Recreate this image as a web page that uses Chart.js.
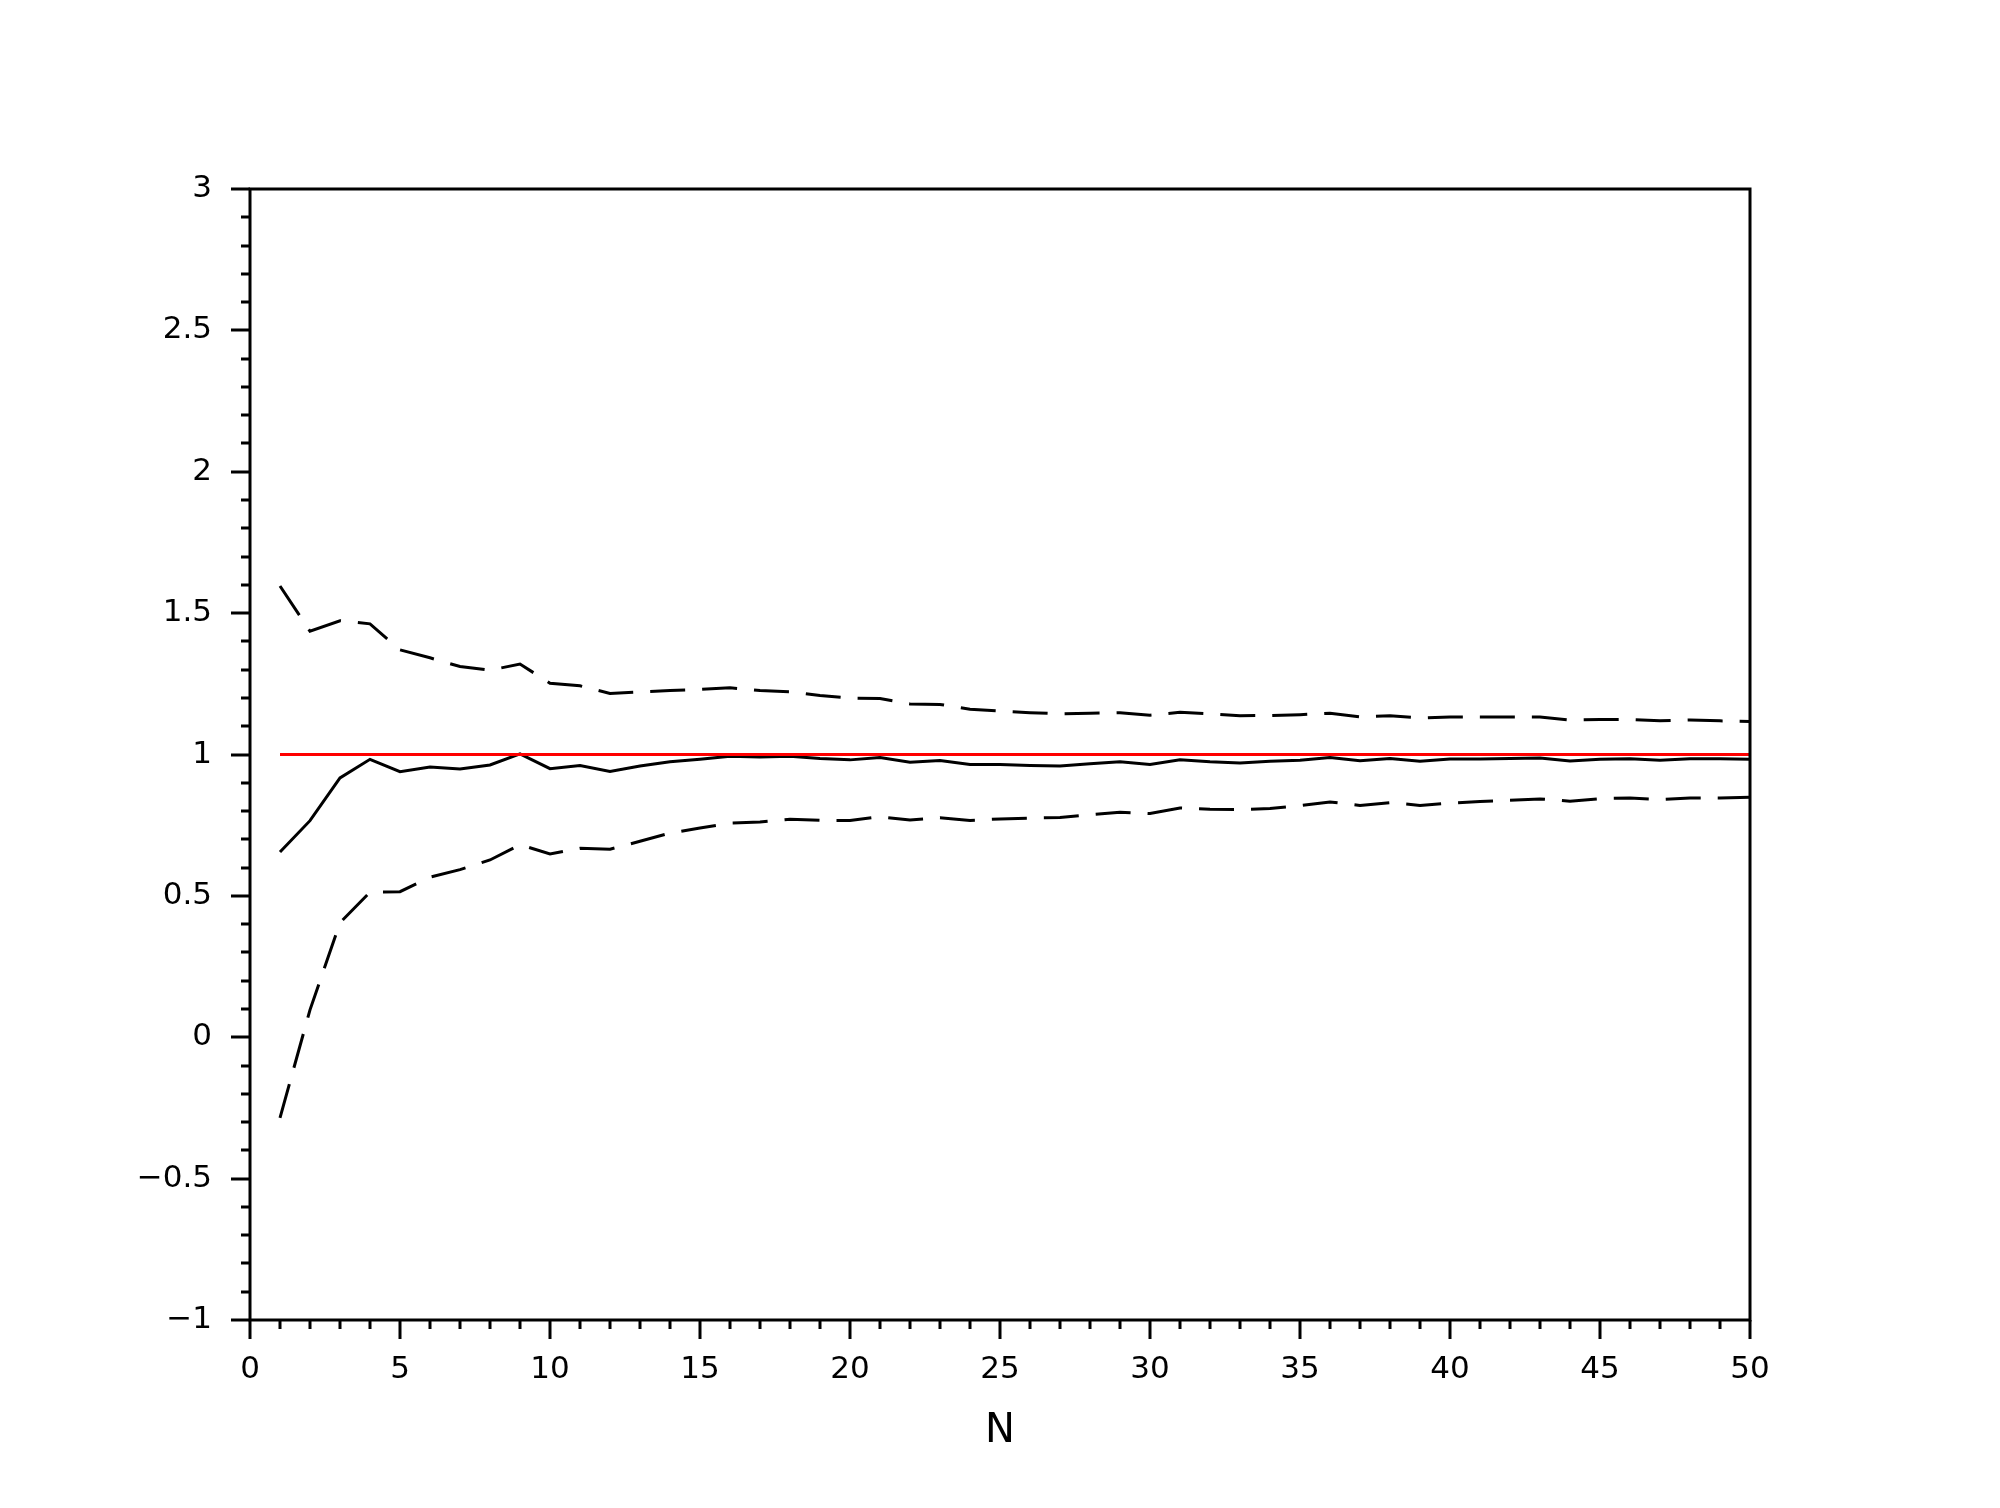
<!DOCTYPE html>
<html>
<head>
<meta charset="utf-8">
<title>N convergence</title>
<script src="https://cdn.jsdelivr.net/npm/chart.js@4.4.1/dist/chart.umd.min.js"></script>
<style>
  html, body { margin: 0; padding: 0; background: #fff; }
  canvas { display: block; }
</style>
</head>
<body>
<canvas id="chart" width="2000" height="1508"></canvas>
<script>
'use strict';

// ------------------------------- Data ------------------------------//
const nValues = [1, 2, 3, 4, 5, 6, 7, 8, 9, 10, 11, 12, 13, 14, 15, 16, 17, 18, 19, 20,
  21, 22, 23, 24, 25, 26, 27, 28, 29, 30, 31, 32, 33, 34, 35, 36, 37, 38, 39, 40,
  41, 42, 43, 44, 45, 46, 47, 48, 49, 50];

const meanValues = [0.655, 0.766, 0.917, 0.983, 0.939, 0.956, 0.949, 0.963, 1.002, 0.950,
  0.961, 0.940, 0.959, 0.974, 0.983, 0.994, 0.991, 0.994, 0.986, 0.981,
  0.989, 0.973, 0.979, 0.965, 0.965, 0.961, 0.959, 0.967, 0.974, 0.965,
  0.981, 0.974, 0.970, 0.976, 0.980, 0.989, 0.978, 0.986, 0.976, 0.984,
  0.984, 0.986, 0.988, 0.977, 0.983, 0.985, 0.980, 0.985, 0.985, 0.983];

const upperValues = [1.596, 1.436, 1.473, 1.462, 1.370, 1.342, 1.311, 1.298, 1.320, 1.252,
  1.243, 1.216, 1.221, 1.226, 1.230, 1.236, 1.226, 1.222, 1.209, 1.199,
  1.198, 1.179, 1.177, 1.160, 1.154, 1.148, 1.144, 1.146, 1.148, 1.139,
  1.149, 1.144, 1.137, 1.138, 1.141, 1.146, 1.133, 1.137, 1.129, 1.133,
  1.133, 1.133, 1.133, 1.122, 1.124, 1.124, 1.119, 1.122, 1.119, 1.117];

const lowerValues = [-0.285, 0.097, 0.405, 0.513, 0.515, 0.566, 0.593, 0.627, 0.681, 0.648,
  0.668, 0.665, 0.693, 0.722, 0.740, 0.757, 0.761, 0.771, 0.767, 0.767,
  0.780, 0.768, 0.776, 0.767, 0.772, 0.775, 0.777, 0.787, 0.796, 0.791,
  0.811, 0.806, 0.805, 0.809, 0.819, 0.832, 0.820, 0.830, 0.820, 0.828,
  0.834, 0.838, 0.843, 0.835, 0.844, 0.846, 0.841, 0.846, 0.846, 0.849];

const trueValue = 1;

const xTickMin = 0;
const xTickMax = 50;
const yTickMin = -1;
const yTickMax = 3;

// ------------------------------- Helpers ------------------------------//
function toPoints(values) {
  return values.map((v, i) => ({ x: nValues[i], y: v }));
}

function formatTick(value) {
  const rounded = Math.round(value * 10) / 10;
  const text = String(Math.abs(rounded));
  return rounded < 0 ? '\u2212' + text : text;
}

// frame plus major/minor tick marks, drawn from the library's scales
const framePlugin = {
  id: 'frame',
  afterDraw(chart) {
    const ctx = chart.ctx;
    const area = chart.chartArea;
    const xScale = chart.scales.x;
    const yScale = chart.scales.y;
    ctx.save();
    ctx.strokeStyle = '#000';
    ctx.lineWidth = 3;
    ctx.strokeRect(area.left, area.top, area.right - area.left, area.bottom - area.top);

    ctx.lineWidth = 3;
    ctx.beginPath();
    for (let i = 0; i <= (yTickMax - yTickMin) * 10; i++) {
      const v = yTickMin + i / 10;
      const y = Math.round(yScale.getPixelForValue(v));
      const len = (i % 5 === 0) ? 19 : 9;
      ctx.moveTo(area.left, y);
      ctx.lineTo(area.left - len, y);
    }
    for (let n = xTickMin; n <= xTickMax; n++) {
      const x = Math.round(xScale.getPixelForValue(n));
      const len = (n % 5 === 0) ? 19 : 9;
      ctx.moveTo(x, area.bottom);
      ctx.lineTo(x, area.bottom + len);
    }
    ctx.stroke();
    ctx.restore();
  }
};

// ------------------------------- Chart ------------------------------//
const ctx = document.getElementById('chart').getContext('2d');

const convergenceChart = new Chart(ctx, {
  type: 'line',
  data: {
    datasets: [{
      label: 'True value',
      data: nValues.map(n => ({ x: n, y: trueValue })),
      borderColor: '#ff0000',
      borderWidth: 3,
      pointRadius: 0,
      tension: 0
    }, {
      label: 'Upper',
      data: toPoints(upperValues),
      borderColor: '#000',
      borderWidth: 3,
      borderDash: [35, 17],
      pointRadius: 0,
      tension: 0
    }, {
      label: 'Mean',
      data: toPoints(meanValues),
      borderColor: '#000',
      borderWidth: 3,
      pointRadius: 0,
      tension: 0
    }, {
      label: 'Lower',
      data: toPoints(lowerValues),
      borderColor: '#000',
      borderWidth: 3,
      borderDash: [35, 17],
      pointRadius: 0,
      tension: 0
    }]
  },
  options: {
    responsive: false,
    animation: false,
    devicePixelRatio: 1,
    layout: {
      padding: { top: 189, right: 250, bottom: 52, left: 0 }
    },
    plugins: {
      legend: { display: false },
      tooltip: { enabled: false }
    },
    scales: {
      x: {
        type: 'linear',
        min: xTickMin,
        max: xTickMax,
        grid: { display: false, drawTicks: false, tickLength: 0 },
        border: { display: false },
        ticks: {
          stepSize: 5,
          padding: 31,
          color: '#000',
          font: { family: 'DejaVu Sans', size: 31 },
          maxRotation: 0,
          callback: formatTick
        },
        title: {
          display: true,
          text: 'N',
          color: '#000',
          padding: { top: 0, bottom: 0 },
          font: { family: 'DejaVu Sans', size: 40 }
        },
        afterFit(scale) {
          scale.height = 136;
        }
      },
      y: {
        type: 'linear',
        min: yTickMin,
        max: yTickMax,
        grid: { display: false, drawTicks: false, tickLength: 0 },
        border: { display: false },
        ticks: {
          stepSize: 0.5,
          padding: 38,
          color: '#000',
          font: { family: 'DejaVu Sans', size: 31 },
          callback: formatTick
        },
        afterFit(scale) {
          scale.width = 250;
        }
      }
    }
  },
  plugins: [framePlugin]
});
</script>
</body>
</html>
